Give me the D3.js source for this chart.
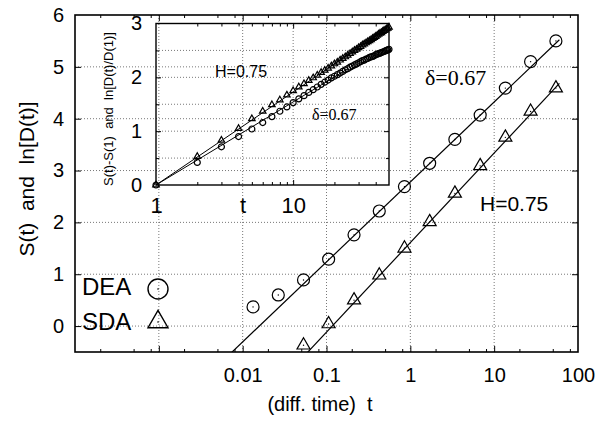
<!DOCTYPE html>
<html>
<head>
<meta charset="utf-8">
<script src="https://cdn.jsdelivr.net/npm/d3@7/dist/d3.min.js"></script>
<style>
  body { margin: 0; background: #fff; }
  svg { display: block; font-family: "Liberation Sans", Arial, sans-serif; }
</style>
</head>
<body>
<svg id="chart" width="608" height="422"></svg>
<script>
// main panel: DEA (circles) and SDA (triangles)
var deaT = [0.0133, 0.0266, 0.0532, 0.106, 0.213, 0.426, 0.851, 1.70, 3.40, 6.81, 13.6, 27.2, 54.5];
var deaS = [0.37, 0.60, 0.89, 1.29, 1.76, 2.22, 2.69, 3.14, 3.60, 4.07, 4.59, 5.10, 5.50];
var sdaT = [0.0532, 0.106, 0.213, 0.426, 0.851, 1.70, 3.40, 6.81, 13.6, 27.2, 54.5];
var sdaS = [-0.37, 0.04, 0.50, 0.98, 1.50, 2.01, 2.56, 3.09, 3.64, 4.14, 4.59];

// fitted lines  S = slope * ln(t) + offset
var deaFit = { slope: 0.67, offset: 2.78 };
var sdaFit = { slope: 0.75, offset: 1.61 };
var fitT = [0.001, 60];

var xTicks = [0.001, 0.01, 0.1, 1, 10];
var xLabels = [0.01, 0.1, 1, 10, 100];
var yTicks = [0, 1, 2, 3, 4, 5];
var yLabels = [0, 1, 2, 3, 4, 5, 6];
var minorSteps = [2, 5, 8];

// inset: S(t)-S(1) and ln[D(t)/D(1)]
var insetT = d3.range(1, 51);
var insetSda = [0, 0.53, 0.83, 1.05, 1.23, 1.37, 1.49, 1.58, 1.67, 1.75, 1.82, 1.88, 1.94, 1.99, 2.04, 2.09, 2.13, 2.17, 2.21, 2.25,
  2.28, 2.32, 2.35, 2.38, 2.41, 2.44, 2.47, 2.50, 2.52, 2.55, 2.57, 2.60, 2.62, 2.64, 2.66, 2.68, 2.70, 2.72, 2.74, 2.76,
  2.78, 2.80, 2.82, 2.83, 2.85, 2.87, 2.88, 2.90, 2.91, 2.93];
var insetDea = [0, 0.42, 0.71, 0.90, 1.04, 1.16, 1.27, 1.37, 1.45, 1.53, 1.60, 1.66, 1.72, 1.77, 1.82, 1.87, 1.91, 1.95, 1.99, 2.02,
  2.05, 2.08, 2.11, 2.14, 2.16, 2.19, 2.21, 2.23, 2.25, 2.27, 2.29, 2.31, 2.32, 2.34, 2.35, 2.37, 2.38, 2.39, 2.40, 2.42,
  2.43, 2.44, 2.45, 2.46, 2.47, 2.48, 2.49, 2.50, 2.51, 2.52];
var insetSdaFit = { slope: 0.75, end: 50 };
var insetDeaFit = { slope: 0.67, end: 25 };
var insetYTicks = [0.5, 1, 1.5, 2, 2.5];
var insetYLabels = [0, 1, 2, 3];
var insetXMinor = [2, 3, 4, 5, 6, 7, 8, 9, 20, 30, 40];
var insetXLabels = [1, 10];

var svg = d3.select('#chart');

var x = d3.scaleLog().domain([1e-4, 100]).range([75, 578]);
var y = d3.scaleLinear().domain([-0.5, 6]).range([352, 15]);
var ix = d3.scaleLog().domain([1, 50]).range([156, 389]);
var iy = d3.scaleLinear().domain([0, 3]).range([185, 23.5]);

var xMinor = [];
[1e-4, 1e-3, 1e-2, 0.1, 1, 10].forEach(d => minorSteps.forEach(m => xMinor.push(d * m)));

function dotted(sel) {
  sel.attr('stroke', '#555').attr('stroke-width', 0.8).attr('stroke-dasharray', '1,2');
}

// main grid (runs under the inset as well)
svg.append('g').selectAll('line').data(xTicks).enter().append('line')
  .attr('x1', d => x(d)).attr('x2', d => x(d))
  .attr('y1', y.range()[0]).attr('y2', y.range()[1])
  .call(dotted);
svg.append('g').selectAll('line').data(yTicks).enter().append('line')
  .attr('x1', x.range()[0]).attr('x2', x.range()[1])
  .attr('y1', d => y(d)).attr('y2', d => y(d))
  .call(dotted);

// inset grid
svg.append('g').selectAll('line').data(insetYTicks).enter().append('line')
  .attr('x1', ix.range()[0]).attr('x2', ix.range()[1])
  .attr('y1', d => iy(d)).attr('y2', d => iy(d))
  .call(dotted);
svg.append('line')
  .attr('x1', ix(10)).attr('x2', ix(10))
  .attr('y1', iy.range()[0]).attr('y2', iy.range()[1])
  .call(dotted);

// ticks via d3 axes, pointing inward, no domain path
function ticks(axis, tr, vals, size) {
  var g = svg.append('g').attr('transform', tr)
    .call(axis.tickValues(vals).tickSize(size).tickFormat(''));
  g.select('.domain').remove();
  g.selectAll('line').attr('stroke', '#000').attr('stroke-width', 1);
  return g;
}
ticks(d3.axisBottom(x), 'translate(0,352)', xTicks, -6);
ticks(d3.axisBottom(x), 'translate(0,352)', xMinor, -3);
ticks(d3.axisTop(x), 'translate(0,15)', xTicks, -6);
ticks(d3.axisTop(x), 'translate(0,15)', xMinor, -3);
ticks(d3.axisLeft(y), 'translate(75,0)', yTicks, -6);
ticks(d3.axisRight(y), 'translate(578,0)', yTicks, -6);

ticks(d3.axisBottom(ix), 'translate(0,185)', [10], -5);
ticks(d3.axisBottom(ix), 'translate(0,185)', insetXMinor, -3);
ticks(d3.axisTop(ix), 'translate(0,23.5)', [10], -5);
ticks(d3.axisTop(ix), 'translate(0,23.5)', insetXMinor, -3);
ticks(d3.axisLeft(iy), 'translate(156,0)', [1, 2], -5);
ticks(d3.axisLeft(iy), 'translate(156,0)', [0.5, 1.5, 2.5], -3);
ticks(d3.axisRight(iy), 'translate(389,0)', [1, 2], -5);
ticks(d3.axisRight(iy), 'translate(389,0)', [0.5, 1.5, 2.5], -3);

// tick labels
function labels(axis, tr, vals, fmt, pad, size) {
  var g = svg.append('g').attr('transform', tr)
    .call(axis.tickValues(vals).tickSize(0).tickPadding(pad).tickFormat(fmt));
  g.select('.domain').remove();
  g.selectAll('text').attr('fill', '#000')
    .style('font-family', '"Liberation Sans", Arial, sans-serif').style('font-size', size + 'px');
}
labels(d3.axisBottom(x), 'translate(0,352)', xLabels, d => String(d), 16, 20);
labels(d3.axisLeft(y), 'translate(75,0)', yLabels, d => String(d), 11, 20);
labels(d3.axisBottom(ix), 'translate(0,185)', insetXLabels, d => String(d), 12, 22);
labels(d3.axisLeft(iy), 'translate(156,0)', insetYLabels, d => String(d), 14, 20);

// frames
svg.append('rect')
  .attr('x', x.range()[0]).attr('y', y.range()[1])
  .attr('width', x.range()[1] - x.range()[0]).attr('height', y.range()[0] - y.range()[1])
  .attr('fill', 'none').attr('stroke', '#000').attr('stroke-width', 1.6);
svg.append('rect')
  .attr('x', ix.range()[0]).attr('y', iy.range()[1])
  .attr('width', ix.range()[1] - ix.range()[0]).attr('height', iy.range()[0] - iy.range()[1])
  .attr('fill', 'none').attr('stroke', '#000').attr('stroke-width', 1.4);

svg.append('clipPath').attr('id', 'plotClip').append('rect')
  .attr('x', x.range()[0]).attr('y', y.range()[1])
  .attr('width', x.range()[1] - x.range()[0]).attr('height', y.range()[0] - y.range()[1]);

// fit lines
var mainLine = d3.line().x(d => x(d[0])).y(d => y(d[1]));
[deaFit, sdaFit].forEach(f => {
  svg.append('path')
    .attr('clip-path', 'url(#plotClip)')
    .attr('d', mainLine(fitT.map(t => [t, f.slope * Math.log(t) + f.offset])))
    .attr('fill', 'none').attr('stroke', '#000').attr('stroke-width', 1.2);
});
var insetLine = d3.line().x(d => ix(d[0])).y(d => iy(d[1]));
[insetSdaFit, insetDeaFit].forEach(f => {
  svg.append('path')
    .attr('d', insetLine([1, f.end].map(t => [t, f.slope * Math.log(t)])))
    .attr('fill', 'none').attr('stroke', '#000').attr('stroke-width', 1);
});

// markers
function circles(tArr, vArr, sx, sy, r, dot) {
  var g = svg.append('g').selectAll('g').data(tArr).enter().append('g')
    .attr('transform', (d, i) => `translate(${sx(d)},${sy(vArr[i])})`);
  g.append('circle').attr('r', r).attr('fill', 'none').attr('stroke', '#000').attr('stroke-width', 1.2);
  if (dot) g.append('circle').attr('r', 0.7).attr('fill', '#000');
}
function triangles(tArr, vArr, sx, sy, side, dot) {
  var sym = d3.symbol().type(d3.symbolTriangle).size(side * side * Math.sqrt(3) / 4);
  var g = svg.append('g').selectAll('g').data(tArr).enter().append('g')
    .attr('transform', (d, i) => `translate(${sx(d)},${sy(vArr[i])})`);
  g.append('path').attr('d', sym).attr('fill', 'none').attr('stroke', '#000').attr('stroke-width', 1.2);
  if (dot) g.append('circle').attr('r', 0.7).attr('fill', '#000');
}
circles(deaT, deaS, x, y, 6, true);
triangles(sdaT, sdaS, x, y, 13, true);
circles(insetT, insetDea, ix, iy, 3, false);
triangles(insetT, insetSda, ix, iy, 6.5, false);

// legend
svg.append('text').attr('x', 82).attr('y', 295).style('font-size', '24px').text('DEA');
svg.append('text').attr('x', 82).attr('y', 330).style('font-size', '24px').text('SDA');
svg.append('g').attr('transform', 'translate(158,289)').call(g => {
  g.append('circle').attr('r', 10).attr('fill', 'none').attr('stroke', '#000').attr('stroke-width', 1.4);
  g.append('circle').attr('r', 0.8).attr('fill', '#000');
});
svg.append('g').attr('transform', 'translate(158,322)').call(g => {
  g.append('path').attr('d', d3.symbol().type(d3.symbolTriangle).size(20 * 20 * Math.sqrt(3) / 4))
    .attr('fill', 'none').attr('stroke', '#000').attr('stroke-width', 1.4);
  g.append('circle').attr('r', 0.8).attr('fill', '#000');
});

// annotations
svg.append('text').attr('x', 425).attr('y', 85)
  .style('font-family', '"Liberation Serif", "Times New Roman", serif').style('font-size', '22px').text('δ=0.67');
svg.append('text').attr('x', 480).attr('y', 211).style('font-size', '21px').text('H=0.75');
svg.append('text').attr('x', 215).attr('y', 77).style('font-size', '16px').text('H=0.75');
svg.append('text').attr('x', 312).attr('y', 120)
  .style('font-family', '"Liberation Serif", "Times New Roman", serif').style('font-size', '16px').text('δ=0.67');

// axis titles
svg.append('text').attr('x', 320).attr('y', 411).attr('text-anchor', 'middle')
  .style('font-size', '20px').style('white-space', 'pre').text('(diff. time)  t');
svg.append('text').attr('transform', 'translate(34,179) rotate(-90)').attr('text-anchor', 'middle')
  .style('font-size', '21px').style('white-space', 'pre').text('S(t)  and  ln[D(t)]');
svg.append('text').attr('transform', 'translate(113,109) rotate(-90)').attr('text-anchor', 'middle')
  .style('font-size', '13px').style('white-space', 'pre').text('S(t)-S(1)  and  ln[D(t)/D(1)]');
svg.append('text').attr('x', 243).attr('y', 213).attr('text-anchor', 'middle')
  .style('font-size', '22px').text('t');
</script>
</body>
</html>
